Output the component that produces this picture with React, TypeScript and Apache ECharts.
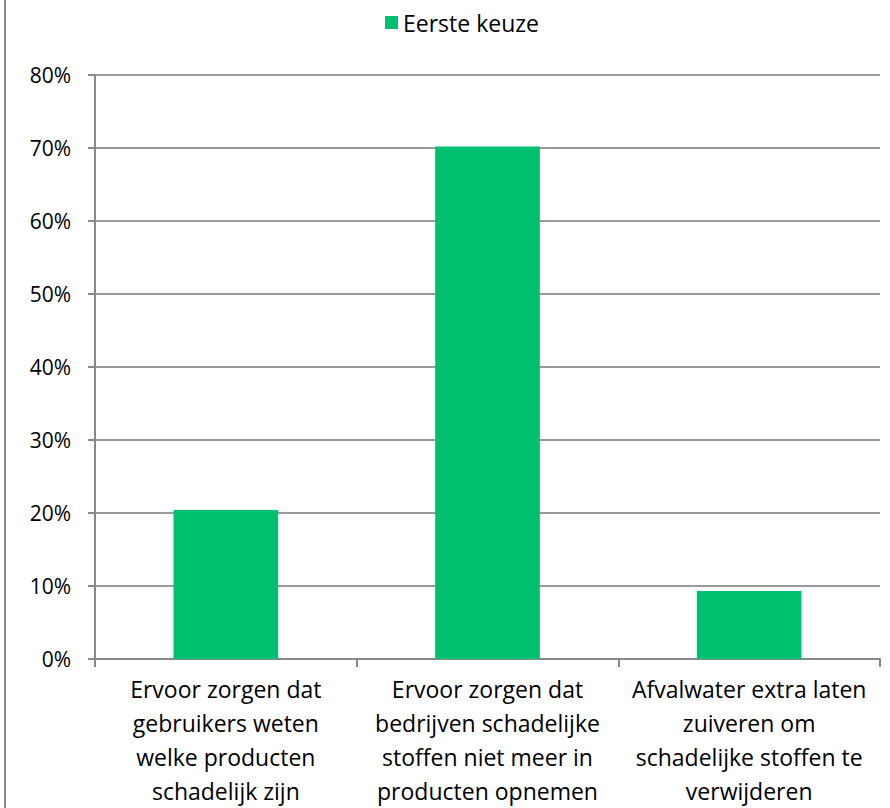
import React, { useEffect, useRef } from "react";
import * as echarts from "echarts";

const categories = [
  "Ervoor zorgen dat\ngebruikers weten\nwelke producten\nschadelijk zijn",
  "Ervoor zorgen dat\nbedrijven schadelijke\nstoffen niet meer in\nproducten opnemen",
  "Afvalwater extra laten\nzuiveren om\nschadelijke stoffen te\nverwijderen",
];
const seriesName = "Eerste keuze";
const values = [20.4, 70.2, 9.3];
const yTicks = { min: 0, max: 80, interval: 10 };

export default function App() {
  const ref = useRef<HTMLDivElement>(null);
  useEffect(() => {
    const chart = echarts.init(ref.current!, null, { renderer: "svg" });
    const font = "'Open Sans', sans-serif";
    chart.setOption({
      animation: false,
      backgroundColor: "#ffffff",
      textStyle: { fontFamily: font },
      legend: {
        top: 6,
        left: 380,
        itemWidth: 13,
        itemHeight: 13,
        itemGap: 6,
        icon: "rect",
        textStyle: { fontSize: 23, color: "#000", fontFamily: font },
        data: [seriesName],
      },
      grid: {
        left: 95,
        right: 10,
        top: 75,
        bottom: 149,
        containLabel: false,
        outerBoundsMode: "none",
      },
      xAxis: {
        type: "category",
        data: categories,
        axisLine: { lineStyle: { color: "#888", width: 2 } },
        axisTick: { show: true, alignWithLabel: false, length: 8, lineStyle: { color: "#888", width: 2 } },
        axisLabel: {
          interval: 0,
          color: "#000",
          fontSize: 23,
          lineHeight: 34,
          margin: 13,
          fontFamily: font,
        },
      },
      yAxis: {
        type: "value",
        min: yTicks.min,
        max: yTicks.max,
        interval: yTicks.interval,
        axisLine: { show: true, lineStyle: { color: "#888", width: 2 } },
        axisTick: { show: true, length: 7, lineStyle: { color: "#888", width: 2 } },
        splitLine: { lineStyle: { color: "#999", width: 2 } },
        axisLabel: {
          formatter: "{value}%",
          color: "#000",
          fontSize: 21,
          margin: 24,
          fontFamily: font,
        },
      },
      graphic: [
        {
          type: "line",
          shape: { x1: 5, y1: 0, x2: 5, y2: 808 },
          style: { stroke: "#888", lineWidth: 2 },
        },
      ],
      series: [
        {
          name: seriesName,
          type: "bar",
          data: values,
          barWidth: "40%",
          itemStyle: { color: "#00BF6F" },
        },
      ],
    });
    return () => chart.dispose();
  }, []);
  return (
    <div
      ref={ref}
      style={{ position: "fixed", left: 0, top: 0, width: 890, height: 808 }}
    />
  );
}
